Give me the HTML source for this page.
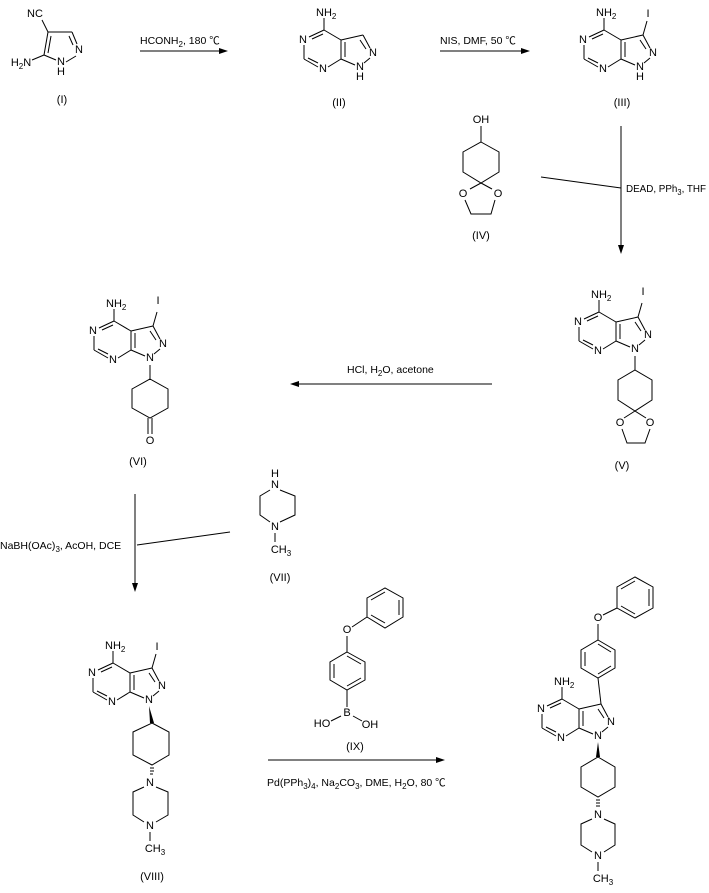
<!DOCTYPE html>
<html><head><meta charset="utf-8"><style>
html,body{margin:0;padding:0;background:#fff;}
svg{display:block;}
text{font-family:"Liberation Sans","Noto Sans CJK SC",sans-serif;font-size:11px;fill:#000;}
text.g{font-size:10.5px;}
.a{text-anchor:middle;dominant-baseline:central;}
line,polyline,polygon.r{stroke:#000;stroke-width:1;fill:none;}
</style></head><body>
<svg width="709" height="893" viewBox="0 0 709 893" xmlns="http://www.w3.org/2000/svg">
<defs>
<g id="core">
 <line x1="-36" y1="-37" x2="-51" y2="-30"/><line x1="-37" y1="-33" x2="-48" y2="-28"/>
 <line x1="-56" y1="-22" x2="-56" y2="-8"/>
 <line x1="-56" y1="-8" x2="-42" y2="0"/><line x1="-52" y1="-9" x2="-42" y2="-4"/>
 <line x1="-32" y1="0" x2="-19" y2="-8"/>
 <line x1="-19" y1="-8" x2="-19" y2="-27"/><line x1="-15" y1="-10" x2="-15" y2="-25"/>
 <line x1="-19" y1="-27" x2="-36" y2="-37"/>
 <line x1="-36" y1="-37" x2="-36" y2="-49"/>
 <line x1="-19" y1="-27" x2="3" y2="-32"/>
 <line x1="3" y1="-32" x2="10" y2="-19"/><line x1="0" y1="-27" x2="6" y2="-18"/>
 <line x1="10" y1="-9" x2="4" y2="-4"/>
 <line x1="-5" y1="-2" x2="-19" y2="-8"/>
 <text class="a" x="-57" y="-27">N</text>
 <text class="a" x="-37" y="2">N</text>
 <text class="a" x="0" y="0">N</text>
 <text class="a" x="13" y="-14">N</text>
 <text x="-44" y="-51">NH<tspan font-size="8" dy="3">2</tspan></text>
</g>
</defs>

<!-- I -->
<line x1="48" y1="32" x2="42" y2="20"/>
<line x1="48" y1="32" x2="72" y2="32"/>
<line x1="72" y1="32" x2="77" y2="44"/><line x1="69" y1="36" x2="73" y2="45"/>
<line x1="76" y1="56" x2="66" y2="62"/>
<line x1="56" y1="60" x2="44" y2="55"/>
<line x1="44" y1="55" x2="48" y2="32"/><line x1="48" y1="53" x2="51" y2="36"/>
<line x1="44" y1="55" x2="32" y2="60"/>
<text class="a" x="35" y="14">NC</text>
<text class="a" x="79" y="50">N</text>
<text class="a" x="61" y="62">N</text>
<text class="a" x="61" y="72">H</text>
<text class="a" x="21" y="63">H<tspan font-size="8" dy="3">2</tspan><tspan dy="-3">N</tspan></text>
<text class="a" x="62" y="100">(I)</text>

<!-- arrow 1 -->
<line x1="140" y1="51" x2="222" y2="51"/><polygon points="228,51 219,48 219,54" fill="#000"/>
<text class="g" x="140" y="44">HCONH<tspan font-size="8" dy="3">2</tspan><tspan dy="-3">, 180 ℃</tspan></text>

<!-- II -->
<g transform="translate(360,67)"><use href="#core"/><text class="a" x="0" y="10">H</text></g>
<text class="a" x="339" y="103">(II)</text>

<!-- arrow 2 -->
<line x1="440" y1="51" x2="524" y2="51"/><polygon points="530,51 521,48 521,54" fill="#000"/>
<text class="g" x="440" y="44">NIS, DMF, 50 ℃</text>

<!-- III -->
<g transform="translate(640,67)"><use href="#core"/><text class="a" x="0" y="10">H</text>
<line x1="3" y1="-32" x2="7" y2="-46"/><text class="a" x="8" y="-53">I</text></g>
<text class="a" x="622" y="103">(III)</text>

<!-- IV -->
<text class="a" x="481" y="120">OH</text>
<line x1="481" y1="126" x2="481" y2="142"/>
<polygon class="r" points="481,142 499,152 499,172 481,183 463,172 463,152"/>
<line x1="481" y1="183" x2="470" y2="189"/><line x1="481" y1="183" x2="492" y2="189"/>
<text class="a" x="463" y="194">O</text><text class="a" x="498" y="194">O</text>
<polyline points="465,200 471,214 491,214 495,200"/>
<text class="a" x="481" y="236">(IV)</text>

<!-- DEAD arrow -->
<line x1="621" y1="126" x2="621" y2="247"/><polygon points="621,254 618,245 624,245" fill="#000"/>
<line x1="541" y1="177" x2="621" y2="188"/>
<text class="g" x="626" y="192" textLength="80" lengthAdjust="spacingAndGlyphs">DEAD, PPh<tspan font-size="8" dy="3">3</tspan><tspan dy="-3">, THF</tspan></text>

<!-- V -->
<g transform="translate(635,349)"><use href="#core"/>
<line x1="3" y1="-32" x2="7" y2="-46"/><text class="a" x="8" y="-57">I</text></g>
<line x1="635" y1="356" x2="635" y2="370"/>
<polygon class="r" points="635,370 652,380 652,400 635,411 618,400 618,380"/>
<line x1="635" y1="411" x2="624" y2="418"/><line x1="635" y1="411" x2="646" y2="418"/>
<text class="a" x="620" y="423">O</text><text class="a" x="650" y="423">O</text>
<polyline points="622,429 627,443 645,443 650,429"/>
<text class="a" x="622" y="466">(V)</text>

<!-- HCl arrow -->
<line x1="297" y1="384" x2="492" y2="384"/><polygon points="290,384 299,381 299,387" fill="#000"/>
<text class="g" x="347" y="373">HCl, H<tspan font-size="8" dy="3">2</tspan><tspan dy="-3">O, acetone</tspan></text>

<!-- VI -->
<g transform="translate(150,358)"><use href="#core"/>
<line x1="3" y1="-32" x2="7" y2="-46"/><text class="a" x="8" y="-57">I</text></g>
<line x1="150" y1="365" x2="150" y2="379"/>
<polygon class="r" points="150,379 168,389 168,408 150,418 132,408 132,389"/>
<line x1="148" y1="418" x2="148" y2="434"/><line x1="152" y1="418" x2="152" y2="434"/>
<text class="a" x="150" y="441">O</text>
<text class="a" x="138" y="462">(VI)</text>

<!-- NaBH arrow -->
<line x1="135" y1="494" x2="135" y2="585"/><polygon points="135,592 132,583 138,583" fill="#000"/>
<line x1="137" y1="545" x2="230" y2="532"/>
<text class="g" x="0" y="549">NaBH(OAc)<tspan font-size="8" dy="3">3</tspan><tspan dy="-3">, AcOH, DCE</tspan></text>

<!-- VII -->
<text class="a" x="275" y="474">H</text><text class="a" x="275" y="485">N</text>
<polyline points="270,490 260,496 260,515 270,522"/>
<polyline points="280,490 295,496 295,515 280,522"/>
<text class="a" x="275" y="527">N</text>
<line x1="275" y1="533" x2="275" y2="542"/>
<text class="a" x="281" y="550">CH<tspan font-size="8" dy="3">3</tspan></text>
<text class="a" x="280" y="578">(VII)</text>

<!-- VIII -->
<g transform="translate(149,700)"><use href="#core"/>
<line x1="3" y1="-32" x2="7" y2="-46"/><text class="a" x="8" y="-53">I</text></g>
<polygon points="149,706 150,723 154,723" fill="#000"/>
<polygon class="r" points="152,723 169,732 169,755 152,765 133,755 133,732"/>
<g stroke="#000"><line x1="150" y1="768" x2="154" y2="768"/><line x1="150" y1="771" x2="154" y2="771"/><line x1="150" y1="774" x2="153" y2="774"/></g>
<text class="a" x="150" y="783">N</text>
<polyline points="144,787 133,792 133,815 144,822"/>
<polyline points="156,787 168,792 168,815 156,822"/>
<text class="a" x="150" y="826">N</text>
<line x1="150" y1="832" x2="150" y2="841"/>
<text class="a" x="155" y="849">CH<tspan font-size="8" dy="3">3</tspan></text>
<text class="a" x="152" y="877">(VIII)</text>

<!-- IX -->
<polygon class="r" points="367,617 367,598 385,588 403,598 403,617 385,628"/>
<line x1="371" y1="600" x2="385" y2="592"/><line x1="399" y1="600" x2="399" y2="615"/><line x1="371" y1="615" x2="385" y2="623"/>
<line x1="352" y1="627" x2="367" y2="617"/>
<text class="a" x="347" y="630">O</text>
<line x1="347" y1="636" x2="347" y2="652"/>
<polygon class="r" points="347,652 365,662 365,680 347,690 330,680 330,662"/>
<line x1="347" y1="656" x2="361" y2="664"/><line x1="334" y1="664" x2="334" y2="678"/><line x1="347" y1="686" x2="361" y2="678"/>
<line x1="347" y1="690" x2="347" y2="707"/>
<text class="a" x="347" y="713">B</text>
<line x1="341" y1="716" x2="331" y2="721"/><line x1="353" y1="716" x2="362" y2="721"/>
<text class="a" x="322" y="724">HO</text><text class="a" x="370" y="725">OH</text>
<text class="a" x="355" y="747">(IX)</text>

<!-- Suzuki arrow -->
<line x1="268" y1="760" x2="439" y2="760"/><polygon points="445,760 436,757 436,763" fill="#000"/>
<text class="g" x="267" y="786">Pd(PPh<tspan font-size="8" dy="3">3</tspan><tspan dy="-3">)</tspan><tspan font-size="8" dy="3">4</tspan><tspan dy="-3">, Na</tspan><tspan font-size="8" dy="3">2</tspan><tspan dy="-3">CO</tspan><tspan font-size="8" dy="3">3</tspan><tspan dy="-3">, DME, H</tspan><tspan font-size="8" dy="3">2</tspan><tspan dy="-3">O, 80 ℃</tspan></text>

<!-- Final product -->
<g transform="translate(598,736)"><use href="#core"/></g>
<line x1="601" y1="704" x2="598" y2="678"/>
<polygon class="r" points="598,640 615,650 615,668 598,678 581,668 581,650"/>
<line x1="598" y1="644" x2="611" y2="652"/><line x1="585" y1="652" x2="585" y2="666"/><line x1="598" y1="674" x2="611" y2="666"/>
<line x1="598" y1="640" x2="598" y2="624"/>
<text class="a" x="598" y="618">O</text>
<line x1="603" y1="615" x2="617" y2="608"/>
<polygon class="r" points="617,608 617,587 635,577 653,587 653,608 635,618"/>
<line x1="621" y1="589" x2="635" y2="581"/><line x1="649" y1="589" x2="649" y2="606"/><line x1="621" y1="606" x2="635" y2="614"/>
<polygon points="598,742 596,757 600,757" fill="#000"/>
<polygon class="r" points="598,757 615,767 615,787 598,797 581,787 581,767"/>
<g stroke="#000"><line x1="596" y1="800" x2="600" y2="800"/><line x1="596" y1="803" x2="600" y2="803"/><line x1="596" y1="806" x2="600" y2="806"/></g>
<text class="a" x="598" y="815">N</text>
<polyline points="592,819 581,824 581,845 592,852"/>
<polyline points="604,819 615,824 615,845 604,852"/>
<text class="a" x="598" y="856">N</text>
<line x1="598" y1="862" x2="598" y2="871"/>
<text class="a" x="603" y="879">CH<tspan font-size="8" dy="3">3</tspan></text>
</svg>
</body></html>
